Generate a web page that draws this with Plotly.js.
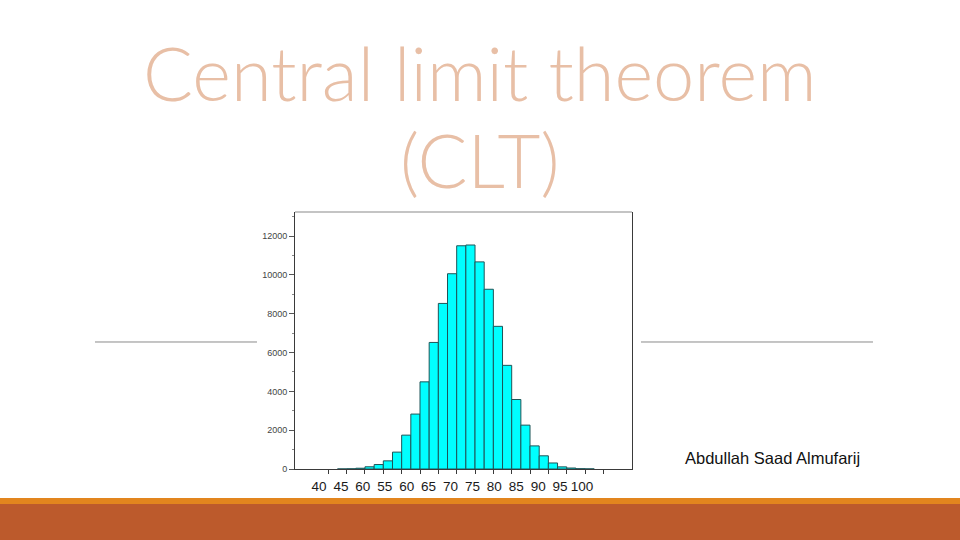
<!DOCTYPE html>
<html>
<head>
<meta charset="utf-8">
<script src="https://cdn.plot.ly/plotly-3.0.1.min.js"></script>
<style>
  html, body { margin: 0; padding: 0; background: #ffffff; }
  #chart { width: 960px; height: 540px; }
</style>
</head>
<body>
<div id="chart"></div>
<script>
// ---- Data ----
// Histogram bin centres (bin width 2.5)
const binCenters = [43.75, 46.25, 48.75, 51.25, 53.75, 56.25, 58.75, 61.25, 63.75, 66.25,
                    68.75, 71.25, 73.75, 76.25, 78.75, 81.25, 83.75, 86.25, 88.75, 91.25,
                    93.75, 96.25, 98.75, 101.25, 103.75, 106.25, 108.75, 111.25];
const binCounts  = [2, 10, 40, 115, 230, 420, 870, 1745, 2830, 4490,
                    6520, 8530, 10060, 11500, 11540, 10670, 9260, 7350, 5340, 3580,
                    2260, 1190, 680, 310, 110, 50, 15, 5];
const binWidth = 2.5;

// Tick marks on the histogram axis
const xTickVals = [40, 45, 50, 55, 60, 65, 70, 75, 80, 85, 90, 95, 100, 105, 110, 115];
const yTickVals = [0, 2000, 4000, 6000, 8000, 10000, 12000];
const yTickText = ["0", "2000", "4000", "6000", "8000", "10000", "12000"];

// Label row printed under the chart (as it appears in the reference)
const xLabelVals = [40, 45, 50, 55, 60, 65, 70, 75, 80, 85, 90, 95, 100];
const xLabelText = ["40", "45", "60", "55", "60", "65", "70", "75", "80", "85", "90", "95", "100"];

const titleLine1 = "Central limit theorem";
const titleLine2 = "(CLT)";
const authorText = "Abdullah Saad Almufarij";

// ---- Traces ----
const bars = {
  type: "bar",
  x: binCenters,
  y: binCounts,
  width: binWidth,
  marker: { color: "#00FFFF", line: { color: "#1E5558", width: 1 } },
  hoverinfo: "skip",
  showlegend: false
};
const labelAxisTrace = {
  type: "scatter", mode: "markers",
  x: [], y: [], xaxis: "x2", yaxis: "y",
  hoverinfo: "skip", showlegend: false
};

// ---- Layout ----
const layout = {
  width: 960, height: 540, autosize: false,
  margin: { l: 295, r: 328, t: 212, b: 71, pad: 0 },
  paper_bgcolor: "#ffffff",
  plot_bgcolor: "#ffffff",
  showlegend: false,
  bargap: 0,
  font: { family: "Liberation Sans, Arial, sans-serif" },
  xaxis: {
    range: [30.92, 122.8],
    showgrid: false, zeroline: false,
    showline: true, linecolor: "#3a3a3a", linewidth: 1,
    ticks: "outside", ticklen: 4, tickcolor: "#3a3a3a", tickwidth: 1,
    tickmode: "array", tickvals: xTickVals,
    showticklabels: false,
    fixedrange: true
  },
  xaxis2: {
    overlaying: "x", anchor: "y", side: "bottom",
    range: [34.52, 111.41],
    showgrid: false, zeroline: false, showline: false,
    ticks: "outside", ticklen: 5, tickcolor: "rgba(0,0,0,0)",
    tickmode: "array", tickvals: xLabelVals, ticktext: xLabelText,
    tickfont: { family: "Liberation Sans, Arial, sans-serif", size: 13.5, color: "#1a1a1a" },
    fixedrange: true
  },
  yaxis: {
    range: [0, 13240],
    showgrid: false, zeroline: false,
    showline: true, linecolor: "#3a3a3a", linewidth: 1, mirror: true,
    ticks: "outside", ticklen: 5, tickcolor: "#555555", tickwidth: 1,
    tickmode: "array", tickvals: yTickVals, ticktext: yTickText,
    tickfont: { family: "Liberation Sans, Arial, sans-serif", size: 9, color: "#444444" },
    minor: { dtick: 1000, ticks: "outside", ticklen: 2, tickcolor: "#888888" },
    fixedrange: true
  },
  shapes: [
    // light top border of the chart frame
    { type: "line", xref: "paper", yref: "paper", x0: 0, x1: 1, y0: 1, y1: 1,
      line: { color: "#c4c4c4", width: 2 } },
    // slide rules left and right of the chart
    { type: "line", xref: "paper", yref: "paper", x0: -0.5935, x1: -0.1128, y0: 0.4942, y1: 0.4942,
      line: { color: "#8a8a8a", width: 1 } },
    { type: "line", xref: "paper", yref: "paper", x0: 1.0267, x1: 1.7151, y0: 0.4942, y1: 0.4942,
      line: { color: "#8a8a8a", width: 1 } },
    // footer bands
    { type: "rect", xref: "paper", yref: "paper", x0: -0.88, x1: 1.98, y0: -0.1362, y1: -0.1128,
      line: { width: 0 }, fillcolor: "#E2851E" },
    { type: "rect", xref: "paper", yref: "paper", x0: -0.88, x1: 1.98, y0: -0.285, y1: -0.1362,
      line: { width: 0 }, fillcolor: "#BC5A2C" }
  ],
  annotations: [
    { text: titleLine1, xref: "paper", yref: "paper", x: 0.549, y: 1.542,
      xanchor: "center", yanchor: "middle", showarrow: false,
      font: { family: "Lato, Liberation Sans, sans-serif", size: 74, color: "#E8BFA6", weight: 300 } },
    { text: titleLine2, xref: "paper", yref: "paper", x: 0.549, y: 1.205,
      xanchor: "center", yanchor: "middle", showarrow: false,
      font: { family: "Lato, Liberation Sans, sans-serif", size: 74, color: "#E8BFA6", weight: 300 } },
    { text: authorText, xref: "paper", yref: "paper", x: 1.418, y: 0.043,
      xanchor: "center", yanchor: "middle", showarrow: false,
      font: { family: "Liberation Sans, Arial, sans-serif", size: 16.5, color: "#111111" } }
  ]
};

Plotly.newPlot("chart", [bars, labelAxisTrace], layout, { staticPlot: true, displayModeBar: false });
</script>
</body>
</html>
